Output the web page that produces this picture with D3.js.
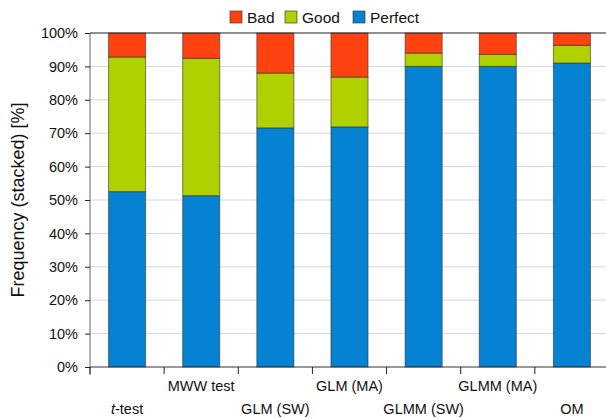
<!DOCTYPE html>
<html>
<head>
<meta charset="utf-8">
<script src="https://cdn.jsdelivr.net/npm/d3@7"></script>
<style>
  body { margin: 0; background: #fff; }
  svg { font-family: "Liberation Sans", Arial, sans-serif; }
</style>
</head>
<body>
<svg id="chart" width="606" height="419"></svg>
<script>
(function () {
  'use strict';

  var methods = ['t-test', 'MWW test', 'GLM (SW)', 'GLM (MA)', 'GLMM (SW)', 'GLMM (MA)', 'OM'];
  var perfect = [52.5, 51.3, 71.6, 71.9, 90.0, 90.0, 91.0];
  var good    = [40.3, 41.1, 16.4, 14.9, 4.0, 3.6, 5.3];
  var bad     = [7.2, 7.6, 12.0, 13.2, 6.0, 6.4, 3.7];
  var yTicks  = [0, 10, 20, 30, 40, 50, 60, 70, 80, 90, 100];

  var series = [
    { name: 'Bad', color: '#ff4210' },
    { name: 'Good', color: '#b0d000' },
    { name: 'Perfect', color: '#0582d2' }
  ];

  var rows = methods.map(function (m, i) {
    return { method: m, Perfect: perfect[i], Good: good[i], Bad: bad[i] };
  });

  var svg = d3.select('#chart');
  var left = 90, right = 609, top = 33, bottom = 367;

  var x = d3.scaleBand().domain(methods).range([left, right]).paddingInner(0.5).paddingOuter(0.25);
  var y = d3.scaleLinear().domain([0, 100]).range([bottom, top]);

  // grid lines
  svg.append('g')
    .selectAll('line')
    .data(yTicks.filter(function (d) { return d > 0 && d < 100; }))
    .call(function (s) { s.enter().append('line')
      .attr('x1', left).attr('x2', 606)
      .attr('y1', function (d) { return y(d); })
      .attr('y2', function (d) { return y(d); })
      .attr('stroke', '#d8d8d8'); });

  // stacked bars
  var stack = d3.stack().keys(['Perfect', 'Good', 'Bad']);
  var colorOf = {};
  series.forEach(function (s) { colorOf[s.name] = s.color; });

  svg.append('g')
    .selectAll('g')
    .data(stack(rows))
    .enter().append('g')
    .attr('fill', function (d) { return colorOf[d.key]; })
    .selectAll('rect')
    .data(function (d) { return d; })
    .enter().append('rect')
    .attr('x', function (d) { return x(d.data.method); })
    .attr('width', x.bandwidth())
    .attr('y', function (d) { return y(d[1]); })
    .attr('height', function (d) { return y(d[0]) - y(d[1]); })
    .attr('stroke', 'rgba(40,40,40,0.55)')
    .attr('stroke-width', 1);

  // top frame line
  svg.append('line')
    .attr('x1', left).attr('x2', 606)
    .attr('y1', y(100)).attr('y2', y(100))
    .attr('stroke', '#222').attr('stroke-width', 1.2);

  // y axis
  var yAxis = svg.append('g')
    .attr('transform', 'translate(' + left + ',0)')
    .call(d3.axisLeft(y).tickValues(yTicks).tickSize(5).tickPadding(7)
      .tickFormat(function (d) { return d + '%'; }));
  yAxis.select('.domain').attr('stroke', '#666').attr('d', 'M0,' + top + 'V' + (bottom + 8));
  yAxis.selectAll('.tick line').attr('stroke', '#222');
  yAxis.selectAll('.tick text').attr('font-size', '14.5px').attr('fill', '#111')
    .attr('font-family', '"Liberation Sans", Arial, sans-serif');

  // x axis line and band ticks
  svg.append('line')
    .attr('x1', left).attr('x2', 606)
    .attr('y1', bottom).attr('y2', bottom)
    .attr('stroke', '#333');

  var step = x.step();
  var edges = d3.range(methods.length + 1).map(function (i) { return left + i * step; });
  svg.append('g')
    .selectAll('line')
    .data(edges)
    .enter().append('line')
    .attr('x1', function (d) { return d; }).attr('x2', function (d) { return d; })
    .attr('y1', bottom).attr('y2', bottom + 7)
    .attr('stroke', '#222');

  // x labels, staggered
  var lab = svg.append('g')
    .selectAll('text')
    .data(methods)
    .enter().append('text')
    .attr('x', function (d) { return x(d) + x.bandwidth() / 2; })
    .attr('y', function (d, i) { return i % 2 === 0 ? 414 : 391; })
    .attr('text-anchor', 'middle')
    .attr('font-size', '14.5px')
    .attr('fill', '#111');
  lab.each(function (d) {
    var t = d3.select(this);
    if (d === 't-test') {
      t.append('tspan').attr('font-style', 'italic').text('t');
      t.append('tspan').text('-test');
    } else {
      t.text(d);
    }
  });

  // y title
  svg.append('text')
    .attr('transform', 'translate(24,' + (top + bottom) / 2 + ') rotate(-90)')
    .attr('text-anchor', 'middle')
    .attr('font-size', '18px')
    .attr('fill', '#111')
    .text('Frequency (stacked) [%]');

  // legend
  var legendX = [230, 285, 353];
  var legend = svg.append('g')
    .selectAll('g')
    .data(series)
    .enter().append('g')
    .attr('transform', function (d, i) { return 'translate(' + legendX[i] + ',11)'; });
  legend.append('rect')
    .attr('width', 12).attr('height', 12)
    .attr('fill', function (d) { return d.color; })
    .attr('stroke', 'rgba(40,40,40,0.6)');
  legend.append('text')
    .attr('x', 17).attr('y', 12)
    .attr('font-size', '15.5px')
    .attr('fill', '#111')
    .text(function (d) { return d.name; });
})();
</script>
</body>
</html>
